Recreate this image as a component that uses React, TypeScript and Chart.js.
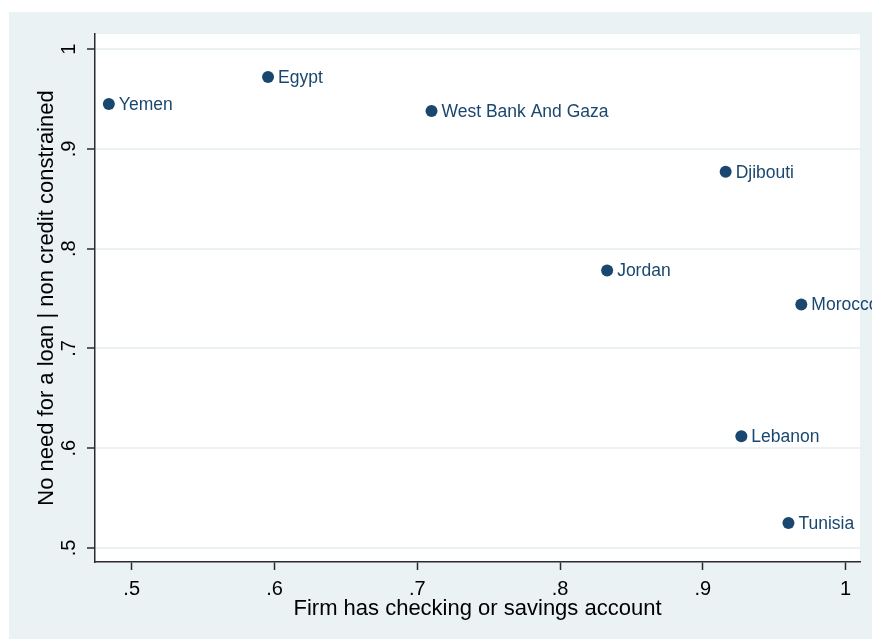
import React, { useEffect, useRef } from "react";
import { Chart, registerables } from "chart.js";

Chart.register(...registerables);

const countries = ["Yemen", "Egypt", "West Bank And Gaza", "Djibouti", "Jordan", "Morocco", "Lebanon", "Tunisia"];
const accountShare = [0.484, 0.5955, 0.710, 0.916, 0.833, 0.969, 0.927, 0.960];
const noNeedShare = [0.945, 0.972, 0.938, 0.877, 0.778, 0.744, 0.612, 0.525];
const xTickValues = [0.5, 0.6, 0.7, 0.8, 0.9, 1];
const yTickValues = [0.5, 0.6, 0.7, 0.8, 0.9, 1];
const xTitle = "Firm has checking or savings account";
const yTitle = "No need for a loan | non credit constrained";

const NAVY = "#1a476f";
const BG = "#eaf2f3";
const AXIS = "#2b2b2b";
const FONT = "'Liberation Sans', Arial, sans-serif";

const fmt = (v: number) => (v === 1 ? "1" : String(Math.round(v * 10) / 10).replace(/^0/, ""));

export default function App() {
  const ref = useRef<HTMLCanvasElement | null>(null);
  useEffect(() => {
    if (!ref.current) return;
    const bgPlugin = {
      id: "bg",
      beforeDraw(chart: any) {
        const { ctx, chartArea } = chart;
        ctx.save();
        ctx.fillStyle = "#ffffff";
        ctx.fillRect(0, 0, chart.width, chart.height);
        ctx.fillStyle = BG;
        ctx.fillRect(9, 12, chart.width - 9, chart.height - 12);
        ctx.fillStyle = "#ffffff";
        ctx.fillRect(chartArea.left, chartArea.top, chartArea.right - chartArea.left, chartArea.bottom - chartArea.top);
        ctx.restore();
      },
      afterDraw(chart: any) {
        const { ctx } = chart;
        const ys = chart.scales.y;
        ctx.save();
        ctx.fillStyle = "#000000";
        ctx.font = `20px ${FONT}`;
        ctx.textAlign = "center";
        ctx.textBaseline = "middle";
        yTickValues.forEach((v) => {
          const py = ys.getPixelForValue(v);
          ctx.save();
          ctx.translate(69, py);
          ctx.rotate(-Math.PI / 2);
          ctx.fillText(fmt(v), 0, 0);
          ctx.restore();
        });
        ctx.restore();
      },
      afterDatasetsDraw(chart: any) {
        const { ctx } = chart;
        const meta = chart.getDatasetMeta(0);
        ctx.save();
        ctx.fillStyle = NAVY;
        ctx.font = `17.5px ${FONT}`;
        ctx.textAlign = "left";
        ctx.textBaseline = "middle";
        meta.data.forEach((pt: any, i: number) => {
          ctx.fillText(countries[i], pt.x + 10, pt.y + 1);
        });
        ctx.restore();
      },
    };
    const chart = new Chart(ref.current, {
      type: "scatter",
      data: {
        datasets: [
          {
            data: accountShare.map((x, i) => ({ x, y: noNeedShare[i] })),
            backgroundColor: NAVY,
            borderColor: NAVY,
            pointRadius: 6,
            borderWidth: 0,
          },
        ],
      },
      options: {
        responsive: false,
        animation: false,
        layout: { padding: { left: 9, top: 34, right: 12, bottom: 0 } },
        plugins: { legend: { display: false }, tooltip: { enabled: false } },
        scales: {
          x: {
            type: "linear",
            min: 0.4743,
            max: 1.0101,
            afterFit(s: any) { s.height = 77; },
            afterBuildTicks(s: any) { s.ticks = xTickValues.map((v) => ({ value: v })); },
            grid: { drawOnChartArea: false, drawTicks: true, tickLength: 8, tickColor: AXIS, tickWidth: 1.5 },
            border: { display: true, color: AXIS, width: 1.5 },
            ticks: { color: "#000", font: { family: FONT, size: 20 }, padding: 7, callback: (v: any) => fmt(Number(v)), maxRotation: 0 },
            title: { display: true, text: xTitle, color: "#000", font: { family: FONT, size: 22 }, padding: { top: 0, bottom: 17 } },
          },
          y: {
            type: "linear",
            min: 0.486,
            max: 1.0151,
            afterFit(s: any) { s.width = 86; },
            afterBuildTicks(s: any) { s.ticks = yTickValues.map((v) => ({ value: v })); },
            grid: { color: BG, lineWidth: 2, drawTicks: true, tickLength: 8, tickColor: AXIS, tickWidth: 1.5 },
            border: { display: true, color: AXIS, width: 1.5 },
            ticks: { display: false },
            title: { display: true, text: yTitle, color: "#000", font: { family: FONT, size: 22 }, padding: { top: 25, bottom: 0 } },
          },
        },
      },
      plugins: [bgPlugin],
    } as any);
    return () => chart.destroy();
  }, []);
  return (
    <canvas
      ref={ref}
      width={872}
      height={639}
      style={{ position: "absolute", left: 0, top: 0, display: "block" }}
    />
  );
}
